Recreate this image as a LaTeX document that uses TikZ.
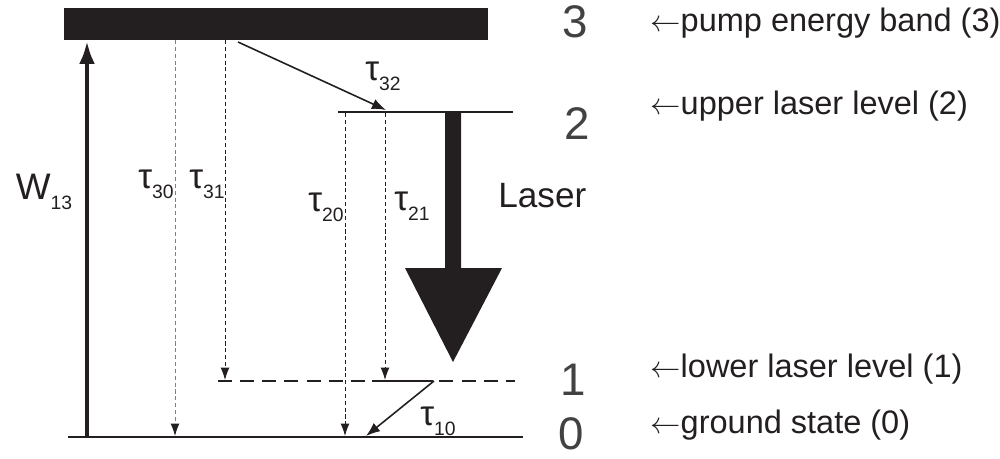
\documentclass[tikz,border=0pt]{standalone}
\usepackage{fontspec}
\setmainfont{Liberation Sans}
\usetikzlibrary{arrows.meta}
\definecolor{ink}{HTML}{231F20}
\tikzset{
  thinline/.style={draw=ink, line width=0.7pt},
  decay/.style={draw=ink, line width=0.55pt, dash pattern=on 2.3pt off 1.6pt, -{Latex[length=7pt,width=5pt,color=ink]}},
  graydecay/.style={decay, draw=gray},
  solidarrow/.style={draw=ink, line width=0.9pt, -{Latex[length=8pt,width=6pt]}},
  levelnum/.style={font=\fontsize{26}{26}\selectfont, text=ink!85, inner sep=0pt},
  desc/.style={font=\fontsize{18.5}{20}\selectfont, text=ink, anchor=west, inner sep=0pt},
  taulabel/.style={font=\fontsize{20}{20}\selectfont, text=ink, inner sep=0pt},
}
\newcommand{\tsub}[1]{\raisebox{-0.55ex}{\fontsize{11}{11}\selectfont #1}}
\begin{document}
\begin{tikzpicture}[x=0.02cm, y=-0.02cm]
\useasboundingbox (0,0) rectangle (1000,459);
% pump band
\fill[ink] (64,8) rectangle (488,40);
\coordinate (band30) at (175,40);
\coordinate (band31) at (225,40);
\coordinate (band32) at (238,42);
% levels
\coordinate (L2a) at (338,112); \coordinate (L2b) at (513,112);
\coordinate (L1a) at (218,381); \coordinate (L1b) at (515,381);
\coordinate (L0a) at (68,437); \coordinate (L0b) at (523,437);
\draw[thinline] (L2a) -- (L2b);
\draw[ink, line width=1.2pt, dash pattern=on 8pt off 4.6pt] (L1a) -- (L1b);
\draw[ink, line width=1.2pt] (372,381) -- (433,381);
\draw[thinline] (L0a) -- (L0b);
% pump arrow
\coordinate (W0) at (87,437);
\coordinate (W3) at (87,41);
\draw[ink, line width=2.4pt, -{Latex[length=13pt,width=9pt]}] (W0) -- (W3);
% decays
\coordinate (g30) at (175,436);
\coordinate (l31) at (225,380);
\coordinate (u20) at (345,113); \coordinate (g20) at (345,436);
\coordinate (u21) at (385,113); \coordinate (l21) at (385,380);
\coordinate (t32) at (386,110);
\coordinate (s10) at (434,381); \coordinate (g10) at (366,436);
\draw[graydecay] (band30) -- (g30);
\draw[decay] (band31) -- (l31);
\draw[decay] (u20) -- (g20);
\draw[decay] (u21) -- (l21);
\draw[solidarrow] (band32) -- (t32);
\draw[solidarrow] (s10) -- (g10);
% laser arrow
\fill[ink] (445,112) -- (461,112) -- (461,268) -- (502,268) -- (453,362) -- (405,268) -- (445,268) -- cycle;
% labels
\node[font=\fontsize{21}{22}\selectfont, text=ink, inner sep=0pt] (W13) at (44,192) {W\tsub{13}};
\node[taulabel] (t30) at (156,184) {τ\tsub{30}};
\node[taulabel] (t31l) at (207,184) {τ\tsub{31}};
\node[taulabel] (t32l) at (383,76) {τ\tsub{32}};
\node[taulabel] (t20) at (326,207) {τ\tsub{20}};
\node[taulabel] (t21) at (412,206) {τ\tsub{21}};
\node[taulabel] (t10) at (438,421) {τ\tsub{10}};
\node[font=\fontsize{20}{22}\selectfont, text=ink, anchor=west, inner sep=0pt] (laser) at (498,196) {Laser};
\node[levelnum] (n3) at (575,22) {3};
\node[levelnum] (n2) at (577,124) {2};
\node[levelnum] (n1) at (573,380) {1};
\node[levelnum] (n0) at (571,434) {0};
\node[desc] (d3) at (650,23) {$\leftarrow$pump energy band (3)};
\node[desc] (d2) at (650,106) {$\leftarrow$upper laser level (2)};
\node[desc] (d1) at (650,369) {$\leftarrow$lower laser level (1)};
\node[desc] (d0) at (650,425) {$\leftarrow$ground state (0)};
\end{tikzpicture}
\end{document}
